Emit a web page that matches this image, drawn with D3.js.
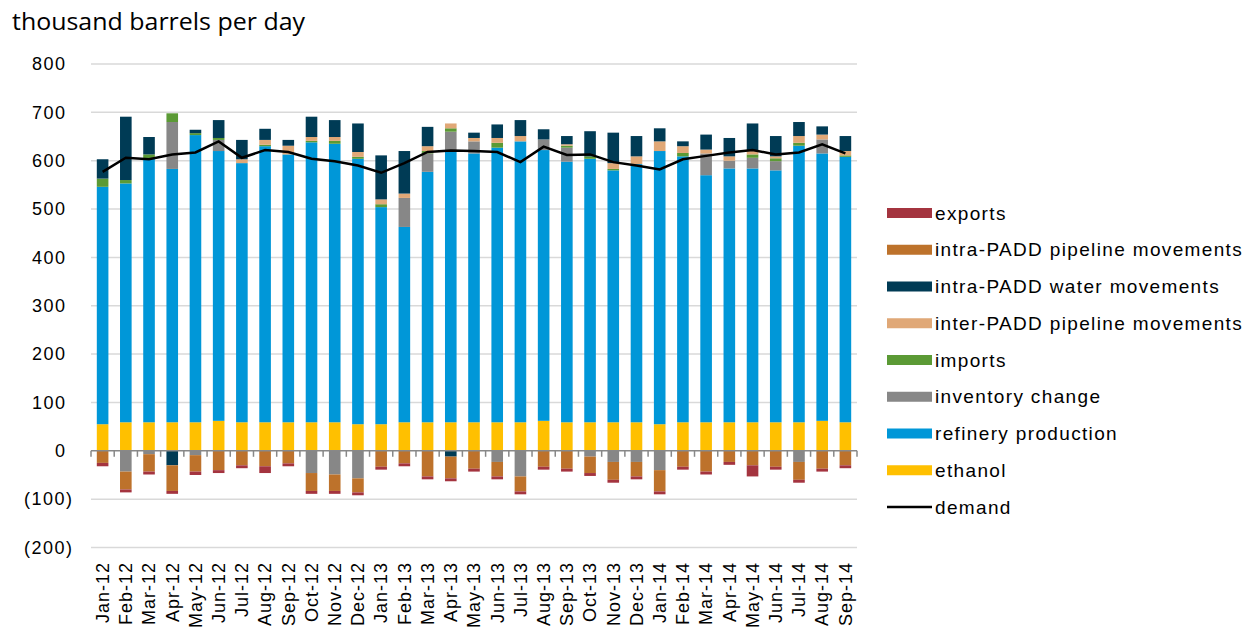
<!DOCTYPE html>
<html>
<head>
<meta charset="utf-8">
<script src="https://cdn.jsdelivr.net/npm/d3@7"></script>
<style>
  body { margin: 0; background: #fff; }
  text { font-family: "Liberation Sans", Arial, sans-serif; fill: #000; }
</style>
</head>
<body>
<div id="chart"></div>
<script>
// months on the x axis
var months = ["Jan-12","Feb-12","Mar-12","Apr-12","May-12","Jun-12","Jul-12","Aug-12","Sep-12","Oct-12","Nov-12","Dec-12",
              "Jan-13","Feb-13","Mar-13","Apr-13","May-13","Jun-13","Jul-13","Aug-13","Sep-13","Oct-13","Nov-13","Dec-13",
              "Jan-14","Feb-14","Mar-14","Apr-14","May-14","Jun-14","Jul-14","Aug-14","Sep-14"];

// series values (thousand barrels per day)
var ethanol   = [55,59,59,59,59,62,59,59,59,59,59,55,55,59,59,59,59,59,59,62,59,59,59,59,55,59,59,59,59,59,59,62,59];
var refinery  = [491,494,545,524,594,558,536,571,554,579,576,549,449,404,518,559,556,568,581,560,539,545,521,534,565,550,511,525,525,521,572,553,549];
var inventory = [0,-43,-7,97,-9,23,0,0,0,-46,-49,-57,0,60,38,42,25,-23,-53,22,29,-12,-23,-23,-40,0,45,16,22,19,-23,29,0];
var imports   = [17,7,9,18,4,4,0,3,0,3,6,4,6,0,5,7,0,10,0,0,4,5,3,0,0,7,0,0,7,6,6,0,3];
var interPipe = [0,0,0,0,0,0,8,10,18,8,8,10,10,9,10,10,7,10,11,0,3,0,12,16,20,14,8,9,7,4,14,10,9];
var intraWater= [40,131,36,-30,7,37,40,23,12,42,35,59,91,88,40,-12,11,28,33,21,17,52,63,42,27,10,31,38,57,42,29,17,31];
var intraPipe = [-25,-37,-36,-53,-34,-40,-30,-32,-26,-37,-34,-29,-33,-26,-53,-45,-37,-30,-31,-33,-37,-34,-37,-30,-44,-33,-43,-23,-30,-33,-37,-37,-30];
var exports   = [-7,-6,-6,-6,-7,-6,-6,-14,-6,-6,-6,-6,-6,-6,-6,-6,-6,-6,-6,-6,-6,-6,-6,-6,-6,-6,-6,-6,-23,-6,-6,-6,-6];
var demand    = [577,606,603,613,617,640,606,622,618,604,599,590,575,595,618,621,620,618,597,629,612,613,597,590,582,603,610,617,622,613,617,634,615];

var yTicks = [800,700,600,500,400,300,200,100,0,-100,-200];

// stack order (bottom up), same as the excel series order
var keys = ["ethanol","refinery","inventory","imports","interPipe","intraWater","intraPipe","exports"];
var names = {
  ethanol: "ethanol", refinery: "refinery production", inventory: "inventory change", imports: "imports",
  interPipe: "inter-PADD pipeline movements", intraWater: "intra-PADD water movements",
  intraPipe: "intra-PADD pipeline movements", exports: "exports"
};
var colors = {
  ethanol: "#ffc000", refinery: "#0097d8", inventory: "#878787", imports: "#5b9a35",
  interPipe: "#e0a877", intraWater: "#003b55", intraPipe: "#bd722b", exports: "#a4343f"
};

var table = months.map(function(m, i) {
  return { month: m, ethanol: ethanol[i], refinery: refinery[i], inventory: inventory[i], imports: imports[i],
           interPipe: interPipe[i], intraWater: intraWater[i], intraPipe: intraPipe[i], exports: exports[i] };
});

var W = 1252, H = 630;
var svg = d3.select("#chart").append("svg").attr("width", W).attr("height", H);

var x = d3.scaleBand().domain(months).range([91, 857]).paddingInner(0.5).paddingOuter(0.25);
var y = d3.scaleLinear().domain([-200, 800]).range([547.5, 64]);

// title
svg.append("text").attr("x", 12).attr("y", 30)
  .style("font-family", "'Open Sans', sans-serif").style("font-size", "23px")
  .attr("textLength", 293).attr("lengthAdjust", "spacingAndGlyphs")
  .text("thousand barrels per day");

// gridlines
svg.append("g").selectAll("line").data(yTicks.filter(function(d) { return d !== 0; }))
  .enter().append("line")
  .attr("x1", 91).attr("x2", 857)
  .attr("y1", function(d) { return y(d); }).attr("y2", function(d) { return y(d); })
  .attr("stroke", "#d9d9d9").attr("stroke-width", 1.5);

// y labels
svg.append("g").selectAll("text").data(yTicks).enter().append("text")
  .attr("x", function(d) { return d < 0 ? 73.5 : 66.5; })
  .attr("y", function(d) { return y(d); })
  .attr("dy", "0.35em")
  .attr("text-anchor", "end")
  .style("font-size", "18px").style("letter-spacing", "1.5px")
  .text(function(d) { return d < 0 ? "(" + Math.abs(d) + ")" : d; });

// stacked bars
var series = d3.stack().keys(keys).offset(d3.stackOffsetDiverging)(table);
svg.append("g").selectAll("g").data(series).enter().append("g")
  .attr("fill", function(s) { return colors[s.key]; })
  .selectAll("rect").data(function(s) { return s; }).enter().append("rect")
  .attr("x", function(d) { return x(d.data.month); })
  .attr("width", x.bandwidth())
  .attr("y", function(d) { return y(Math.max(d[0], d[1])); })
  .attr("height", function(d) { return Math.abs(y(d[0]) - y(d[1])); });

// zero axis with ticks between categories
var zero = svg.append("g");
zero.append("line").attr("x1", 91).attr("x2", 857).attr("y1", y(0)).attr("y2", y(0))
  .attr("stroke", "#888").attr("stroke-width", 1.5);
var bounds = months.map(function(m) { return x(m) - x.step() * x.paddingInner() / 2; }).concat([857]);
zero.selectAll("line.tk").data(bounds).enter().append("line").attr("class", "tk")
  .attr("x1", function(d) { return d; }).attr("x2", function(d) { return d; })
  .attr("y1", y(0)).attr("y2", y(0) + 6)
  .attr("stroke", "#888").attr("stroke-width", 1.5);

// demand line
svg.append("path").datum(demand)
  .attr("fill", "none").attr("stroke", "#000").attr("stroke-width", 2.5)
  .attr("d", d3.line()
    .x(function(d, i) { return x(months[i]) + x.bandwidth() / 2; })
    .y(function(d) { return y(d); }));

// x labels
svg.append("g").selectAll("text").data(months).enter().append("text")
  .attr("transform", function(m) { return "translate(" + (x(m) + x.bandwidth() / 2) + ",562) rotate(-90)"; })
  .attr("dy", "0.35em")
  .attr("text-anchor", "end")
  .style("font-size", "18px").style("letter-spacing", "1px")
  .text(function(m) { return m; });

// legend
var legendKeys = keys.slice().reverse();
var lg = svg.append("g");
legendKeys.forEach(function(k, i) {
  var ly = 213 + i * 36.75;
  lg.append("rect").attr("x", 887).attr("y", ly - 5).attr("width", 45).attr("height", 10).attr("fill", colors[k]);
  lg.append("text").attr("x", 935).attr("y", ly).attr("dy", "0.35em")
    .style("font-size", "19px").style("letter-spacing", "1.35px").text(names[k]);
});
var dy = 213 + legendKeys.length * 36.75;
lg.append("line").attr("x1", 887).attr("x2", 932).attr("y1", dy).attr("y2", dy)
  .attr("stroke", "#000").attr("stroke-width", 2.5);
lg.append("text").attr("x", 935).attr("y", dy).attr("dy", "0.35em")
  .style("font-size", "19px").style("letter-spacing", "1.35px").text("demand");
</script>
</body>
</html>
